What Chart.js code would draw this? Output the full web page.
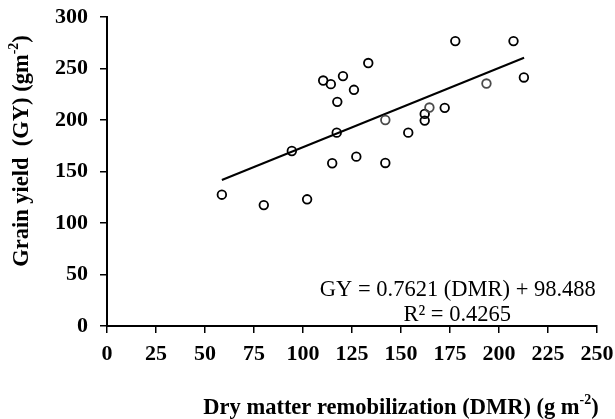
<!DOCTYPE html>
<html>
<head>
<meta charset="utf-8">
<script src="https://cdn.jsdelivr.net/npm/chart.js@4"></script>
<style>
  html, body { margin: 0; padding: 0; background: #fff; }
  #wrap { width: 615px; height: 419px; position: relative; }
</style>
</head>
<body>
<div id="wrap"><canvas id="gyChart"></canvas></div>
<script>
// observed points: dry matter remobilization vs grain yield
const dmrValues = [58.6, 80.0, 94.3, 102.1, 110.3, 114.2, 114.9, 117.2, 117.5, 120.4, 126.0, 127.2,
                   133.3, 142.0, 142.0, 153.7, 162.1, 162.1, 164.5, 172.3, 177.7, 193.6, 207.4, 212.7];
const gyValues  = [127.5, 117.4, 169.9, 123.0, 238.3, 234.8, 158.0, 187.7, 217.6, 242.6, 229.3, 164.4,
                   255.3, 200.0, 158.3, 187.7, 205.9, 199.4, 212.1, 211.8, 276.6, 235.4, 276.6, 241.3];
// slightly lighter circles in the original
const greyPoints = [13, 18, 21];

// trend line ends
const trendX = [58.6, 212.8];
const trendY = [141.7, 260.4];

const xTicks = [0, 25, 50, 75, 100, 125, 150, 175, 200, 225, 250];
const yTicks = [0, 50, 100, 150, 200, 250, 300];

const equationText = 'GY = 0.7621 (DMR) + 98.488';
const r2Text = 'R\u00B2 = 0.4265';

const serif = "'Times New Roman', 'Liberation Serif', serif";

const points = dmrValues.map((x, i) => ({ x: x, y: gyValues[i] }));
const trend = trendX.map((x, i) => ({ x: x, y: trendY[i] }));
const pointColors = points.map((p, i) => greyPoints.includes(i) ? '#4a4a4a' : '#000');

// draws bold text with a superscript part, centred on x
function drawSup(ctx, parts, x, y, size) {
    let total = 0;
    parts.forEach(p => {
        ctx.font = 'bold ' + (p.sup ? size * 0.62 : size) + 'px ' + serif;
        total += ctx.measureText(p.t).width;
    });
    let cx = x - total / 2;
    parts.forEach(p => {
        ctx.font = 'bold ' + (p.sup ? size * 0.62 : size) + 'px ' + serif;
        ctx.fillText(p.t, cx, p.sup ? y - size * 0.36 : y);
        cx += ctx.measureText(p.t).width;
    });
}

const labelsPlugin = {
    id: 'labels',
    afterDraw(chart) {
        const ctx = chart.ctx;
        const xs = chart.scales.x, ys = chart.scales.y;
        ctx.save();
        ctx.fillStyle = '#000';
        ctx.textBaseline = 'middle';
        ctx.textAlign = 'left';

        // x axis title
        drawSup(ctx, [{ t: 'Dry matter remobilization (DMR) (g m' }, { t: '-2', sup: true }, { t: ')' }], 401, 408, 22.5);

        // y axis title
        ctx.save();
        ctx.translate(22, 151);
        ctx.rotate(-Math.PI / 2);
        drawSup(ctx, [{ t: 'Grain yield  (GY) (gm' }, { t: '-2', sup: true }, { t: ')' }], 0, 0, 22.5);
        ctx.restore();

        // equation
        ctx.font = '22.5px ' + serif;
        ctx.textAlign = 'center';
        ctx.fillText(equationText, xs.getPixelForValue(179), ys.getPixelForValue(35));
        ctx.fillText(r2Text, xs.getPixelForValue(178.7), ys.getPixelForValue(10.5));
        ctx.restore();
    }
};

new Chart(document.getElementById('gyChart'), {
    type: 'scatter',
    data: {
        datasets: [{
            label: 'Observed',
            data: points,
            pointStyle: 'circle',
            pointRadius: 4.3,
            pointBorderWidth: 1.8,
            pointBorderColor: pointColors,
            pointBackgroundColor: 'rgba(255,255,255,0)',
            order: 1
        }, {
            label: 'Trend',
            type: 'line',
            data: trend,
            borderColor: '#000',
            borderWidth: 2,
            pointRadius: 0,
            fill: false,
            order: 2
        }]
    },
    options: {
        responsive: true,
        maintainAspectRatio: false,
        animation: false,
        layout: {
            padding: { left: 0, right: 18, top: 17, bottom: 0 }
        },
        plugins: {
            legend: { display: false },
            tooltip: { enabled: false }
        },
        scales: {
            x: {
                type: 'linear',
                min: 0,
                max: 250,
                afterBuildTicks: (scale) => { scale.ticks = xTicks.map(v => ({ value: v })); },
                afterFit: (scale) => {
                    scale.height = 93;
                    scale.paddingLeft = 0;
                    scale.paddingRight = 0;
                },
                border: { color: '#000', width: 2 },
                grid: { drawOnChartArea: false, drawTicks: true, tickLength: 7, color: '#000', lineWidth: 1.5 },
                ticks: {
                    color: '#000',
                    padding: 8,
                    maxRotation: 0,
                    autoSkip: false,
                    font: { family: serif, size: 22, weight: 'bold' }
                }
            },
            y: {
                min: 0,
                max: 300,
                afterBuildTicks: (scale) => { scale.ticks = yTicks.map(v => ({ value: v })); },
                afterFit: (scale) => {
                    scale.width = 107;
                    scale.paddingTop = 0;
                    scale.paddingBottom = 0;
                },
                border: { color: '#000', width: 2 },
                grid: { drawOnChartArea: false, drawTicks: true, tickLength: 7, color: '#000', lineWidth: 1.5 },
                ticks: {
                    color: '#000',
                    padding: 12,
                    font: { family: serif, size: 22, weight: 'bold' }
                }
            }
        }
    },
    plugins: [labelsPlugin]
});
</script>
</body>
</html>
